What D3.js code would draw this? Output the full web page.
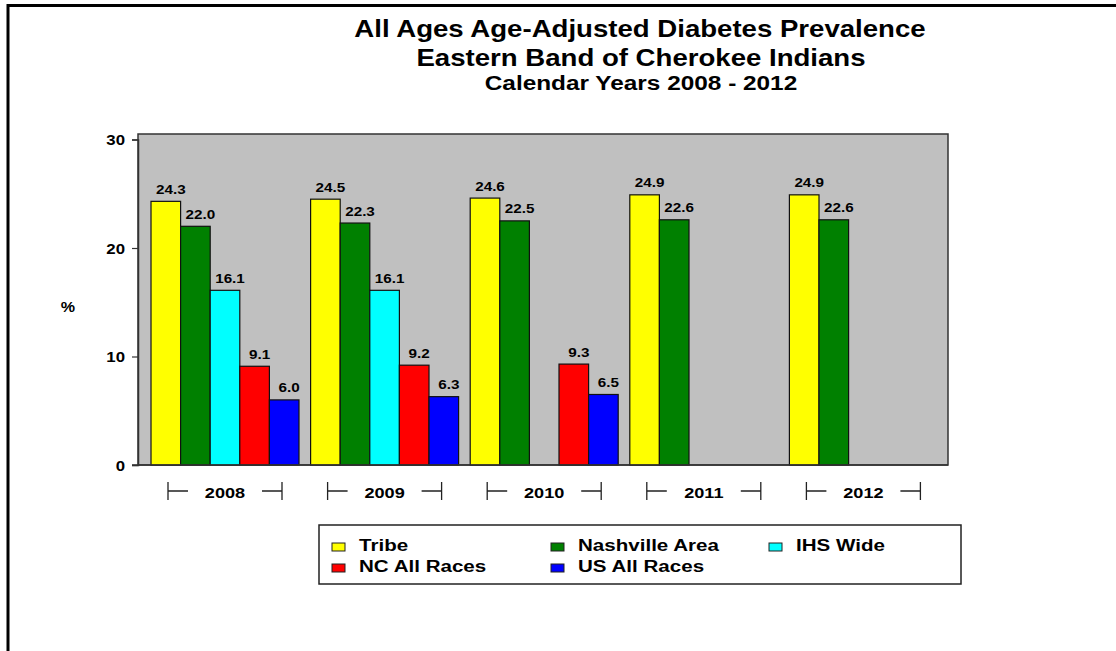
<!DOCTYPE html>
<html>
<head>
<meta charset="utf-8">
<script src="https://cdn.jsdelivr.net/npm/d3@7"></script>
<style>
  body { margin: 0; background: #fff; }
  svg { display: block; }
  text { font-family: "Liberation Sans", Arial, sans-serif; font-weight: bold; fill: #000; }
</style>
</head>
<body>
<svg id="chart" width="1116" height="651"></svg>
<script>
// Diabetes prevalence (%) by calendar year
const years = ["2008", "2009", "2010", "2011", "2012"];
const seriesNames = ["Tribe", "Nashville Area", "IHS Wide", "NC All Races", "US All Races"];
const tribe = [24.3, 24.5, 24.6, 24.9, 24.9];
const nashvilleArea = [22.0, 22.3, 22.5, 22.6, 22.6];
const ihsWide = [16.1, 16.1, null, null, null];
const ncAllRaces = [9.1, 9.2, 9.3, null, null];
const usAllRaces = [6.0, 6.3, 6.5, null, null];
const yTicks = [0, 10, 20, 30];
const titleLines = [
  "All Ages Age-Adjusted Diabetes Prevalence",
  "Eastern Band of Cherokee Indians",
  "Calendar Years 2008 - 2012"
];

const seriesValues = [tribe, nashvilleArea, ihsWide, ncAllRaces, usAllRaces];
const palette = ["#FFFF00", "#008000", "#00FFFF", "#FF0000", "#0000FF"];

const svg = d3.select("#chart");

// horizontally widened text, as in the original export
function wtext(parent, x, y, str, size, sx, anchor) {
  return parent.append("text")
    .attr("transform", `translate(${x},${y}) scale(${sx},1)`)
    .attr("text-anchor", anchor || "start")
    .style("font-size", size + "px")
    .text(str);
}

// outer frame (top and left edges)
svg.append("path")
  .attr("d", "M8,651 L8,5.5 L1116,5.5")
  .attr("fill", "none")
  .attr("stroke", "#000")
  .attr("stroke-width", 3);

// titles
wtext(svg, 640, 37, titleLines[0], 23, 1.2, "middle");
wtext(svg, 641, 66, titleLines[1], 23, 1.2, "middle");
wtext(svg, 641, 90, titleLines[2], 19.5, 1.25, "middle");

// plot area
const plot = { left: 138, right: 948, top: 134, bottom: 465 };

const y = d3.scaleLinear().domain([0, 30]).range([465, 139.5]);
const x = d3.scaleBand().domain(years).range([151, 937.4]).paddingInner(0.0727).paddingOuter(0);
const xs = d3.scaleBand().domain(seriesNames).range([0, x.bandwidth()]).padding(0);

svg.append("rect")
  .attr("x", plot.left).attr("y", plot.top)
  .attr("width", plot.right - plot.left).attr("height", plot.bottom - plot.top)
  .attr("fill", "#C0C0C0")
  .attr("stroke", "#333").attr("stroke-width", 1.5);

// y axis
const yAxis = svg.append("g")
  .attr("transform", `translate(${plot.left},0)`)
  .call(d3.axisLeft(y).tickValues(yTicks).tickSize(6).tickFormat(d3.format("d")));
yAxis.select(".domain").attr("stroke", "#333").attr("stroke-width", 1.5);
yAxis.selectAll(".tick line").attr("stroke", "#333").attr("stroke-width", 1.2);
yAxis.selectAll(".tick text").remove();
yAxis.selectAll(".tick").each(function (d) {
  wtext(d3.select(this), -13, 5, d, 14, 1.2, "end");
});

// y axis title
wtext(svg, 68, 312, "%", 14, 1.15, "middle");

// bars
const bars = [];
years.forEach((yr, i) => {
  seriesNames.forEach((s, j) => {
    const v = seriesValues[j][i];
    if (v != null) bars.push({ year: yr, series: s, idx: j, value: v });
  });
});

const barG = svg.append("g");
barG.selectAll("rect")
  .data(bars)
  .join("rect")
  .attr("x", d => x(d.year) + xs(d.series))
  .attr("y", d => y(d.value))
  .attr("width", xs.bandwidth())
  .attr("height", d => y(0) - y(d.value))
  .attr("fill", d => palette[d.idx])
  .attr("stroke", "#111")
  .attr("stroke-width", 1.2);

// value labels
bars.forEach(d => {
  const cx = x(d.year) + xs(d.series) + xs.bandwidth() / 2 + 5;
  wtext(barG, cx, y(d.value) - 7.5, d3.format(".1f")(d.value), 13.5, 1.13, "middle");
});

// bottom axis line redrawn on top of bars
svg.append("line")
  .attr("x1", plot.left - 6).attr("x2", plot.right)
  .attr("y1", plot.bottom).attr("y2", plot.bottom)
  .attr("stroke", "#333").attr("stroke-width", 1.5);

// year labels with bracket marks
const yearG = svg.append("g").selectAll("g")
  .data(years)
  .join("g")
  .attr("transform", d => `translate(${x(d) + x.bandwidth() / 2},0)`);

yearG.each(function (d) {
  const g = d3.select(this);
  const half = 57, dash = 20, yMid = 491;
  g.append("path")
    .attr("d", `M${-half},${yMid - 9} V${yMid + 9} M${-half},${yMid} h${dash}` +
               ` M${half},${yMid - 9} V${yMid + 9} M${half},${yMid} h${-dash}`)
    .attr("fill", "none")
    .attr("stroke", "#222")
    .attr("stroke-width", 1.3);
  wtext(g, 0, 497.5, d, 15.5, 1.17, "middle");
});

// legend
const legendBox = { x: 319, y: 525, w: 642, h: 59 };
svg.append("rect")
  .attr("x", legendBox.x).attr("y", legendBox.y)
  .attr("width", legendBox.w).attr("height", legendBox.h)
  .attr("fill", "#fff")
  .attr("stroke", "#222").attr("stroke-width", 1.5);

const legendCols = [332, 551, 769];
const legendRows = [543, 564];
const legendG = svg.append("g");
seriesNames.forEach((s, j) => {
  const cx = legendCols[j % 3];
  const ry = legendRows[Math.floor(j / 3)];
  legendG.append("rect")
    .attr("x", cx).attr("y", ry)
    .attr("width", 13).attr("height", 8)
    .attr("fill", palette[j])
    .attr("stroke", "#222").attr("stroke-width", 1);
  wtext(legendG, cx + 27, ry + 7.5, s, 17, 1.21, "start");
});
</script>
</body>
</html>
